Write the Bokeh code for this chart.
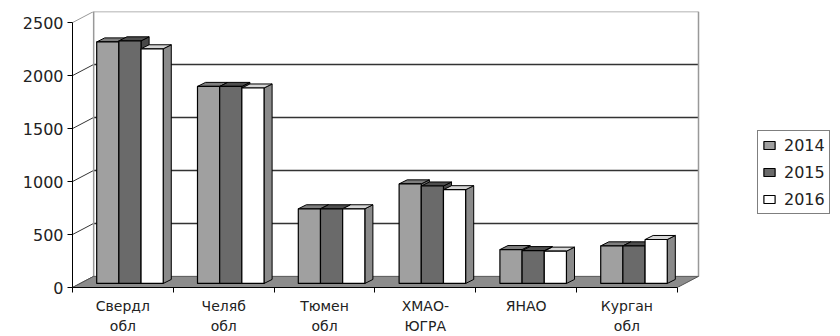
from bokeh.plotting import figure
from bokeh.models import FixedTicker, Legend, LegendItem, Range1d, ColumnDataSource
from bokeh.embed import file_html
from bokeh.resources import INLINE

# ---- data ----
categories = ["Свердл\nобл", "Челяб\nобл", "Тюмен\nобл", "ХМАО-\nЮГРА", "ЯНАО", "Курган\nобл"]
years = ["2014", "2015", "2016"]
v2014 = [2280, 1860, 705, 940, 320, 355]
v2015 = [2290, 1860, 705, 920, 310, 355]
v2016 = [2215, 1845, 705, 885, 305, 415]
y_ticks = [0, 500, 1000, 1500, 2000, 2500]

# ---- style / geometry constants ----
front_colors = ["#a0a0a0", "#6a6a6a", "#ffffff"]
top_colors = ["#7e7e7e", "#4e4e4e", "#d6d6d6"]
side_colors = ["#777777", "#484848", "#8a8a8a"]
FONT = "DejaVu Sans"
W = 0.22          # bar width (category units)
WX, WY = 0.21, 105   # wall depth offset
FX, FY = 0.07, 38    # bar front plane offset
BX, BY = 0.08, 38    # bar depth
n = len(categories)
ymax = y_ticks[-1]
CHART_PX = 626       # px width of the 3D box
FRAME_PX = 840 - 72  # px width of the whole frame (legend lives in the empty right part)

p = figure(width=840, height=336, output_backend="svg", toolbar_location=None,
           x_range=Range1d(-0.5, -0.5 + (n + WX) * FRAME_PX / CHART_PX),
           y_range=Range1d(0, ymax + WY),
           min_border_left=72, min_border_right=0, min_border_top=11, min_border_bottom=47)
p.outline_line_color = None
p.xgrid.visible = False
p.ygrid.visible = False
p.background_fill_color = "white"

x0w, x1w = -0.5, n - 0.5
gl = [t for t in y_ticks]
p.segment(x0=[x0w] * len(gl), y0=gl, x1=[x0w + WX] * len(gl), y1=[t + WY for t in gl],
          line_color=["#333333"] * (len(gl) - 1) + ["#999999"], line_width=1)
p.segment(x0=[x0w + WX] * (len(gl) - 1), y0=[t + WY for t in gl[1:]],
          x1=[x1w + WX] * (len(gl) - 1), y1=[t + WY for t in gl[1:]],
          line_color=["#333333"] * (len(gl) - 2) + ["#999999"], line_width=1.5)
p.segment(x0=[x0w + WX, x1w + WX], y0=[WY, WY], x1=[x0w + WX, x1w + WX], y1=[ymax + WY] * 2,
          line_color="#999999", line_width=1.5)
p.patch(x=[x0w, x1w, x1w + WX, x0w + WX], y=[0, 0, WY, WY],
        fill_color="#8c8c8c", line_color="#555555", line_width=1)

legend_items = []
for i, vals in enumerate([v2014, v2015, v2016]):
    xc = [j + (i - 1) * W + FX for j in range(n)]
    xl = [c - W / 2 for c in xc]
    xr = [c + W / 2 for c in xc]
    top = [FY + v for v in vals]
    side_xs = [[r, r + BX, r + BX, r] for r in xr]
    side_ys = [[FY, FY + BY, t + BY, t] for t in top]
    top_xs = [[l, r, r + BX, l + BX] for l, r in zip(xl, xr)]
    top_ys = [[t, t, t + BY, t + BY] for t in top]
    p.patches(xs=side_xs, ys=side_ys, fill_color=side_colors[i], line_color="black", line_width=1)
    p.patches(xs=top_xs, ys=top_ys, fill_color=top_colors[i], line_color="black", line_width=1)
    src = ColumnDataSource(dict(left=xl, right=xr, bottom=[FY] * n, top=top))
    r = p.quad(left="left", right="right", bottom="bottom", top="top", source=src,
               fill_color=front_colors[i], line_color="black", line_width=1.2)
    legend_items.append(LegendItem(label=years[i], renderers=[r]))

p.yaxis.ticker = FixedTicker(ticks=y_ticks)
p.yaxis.bounds = (0, ymax)
p.yaxis.major_tick_out = 5
p.yaxis.major_tick_in = 0
p.yaxis.minor_tick_out = 0
p.yaxis.minor_tick_in = 0
p.yaxis.major_label_standoff = 4
p.yaxis.major_label_text_font = FONT
p.yaxis.major_label_text_font_size = "16px"
p.yaxis.major_label_text_color = "#222222"
p.yaxis.axis_line_color = "black"

p.xaxis.ticker = FixedTicker(ticks=list(range(n)), minor_ticks=[k + 0.5 for k in range(-1, n)])
p.xaxis.bounds = (x0w, x1w)
p.xaxis.major_tick_out = 0
p.xaxis.major_tick_in = 0
p.xaxis.minor_tick_out = 5
p.xaxis.minor_tick_in = 0
p.xaxis.major_label_overrides = {j: c for j, c in enumerate(categories)}
p.xaxis.major_label_standoff = 5
p.xaxis.major_label_text_font = FONT
p.xaxis.major_label_text_font_size = "14px"
p.xaxis.major_label_text_line_height = 1.25
p.xaxis.major_label_text_color = "#222222"
p.xaxis.axis_line_color = "black"

legend = Legend(items=legend_items, location=(685, 73), orientation="vertical",
                border_line_color="black", border_line_width=1, background_fill_color="white",
                background_fill_alpha=1, padding=4, spacing=7, margin=0,
                glyph_width=14, glyph_height=10, label_standoff=8, label_height=20,
                label_text_font=FONT, label_text_font_size="16px", label_text_color="#222222")
p.add_layout(legend)

open("out.html", "w").write(file_html(p, INLINE))
